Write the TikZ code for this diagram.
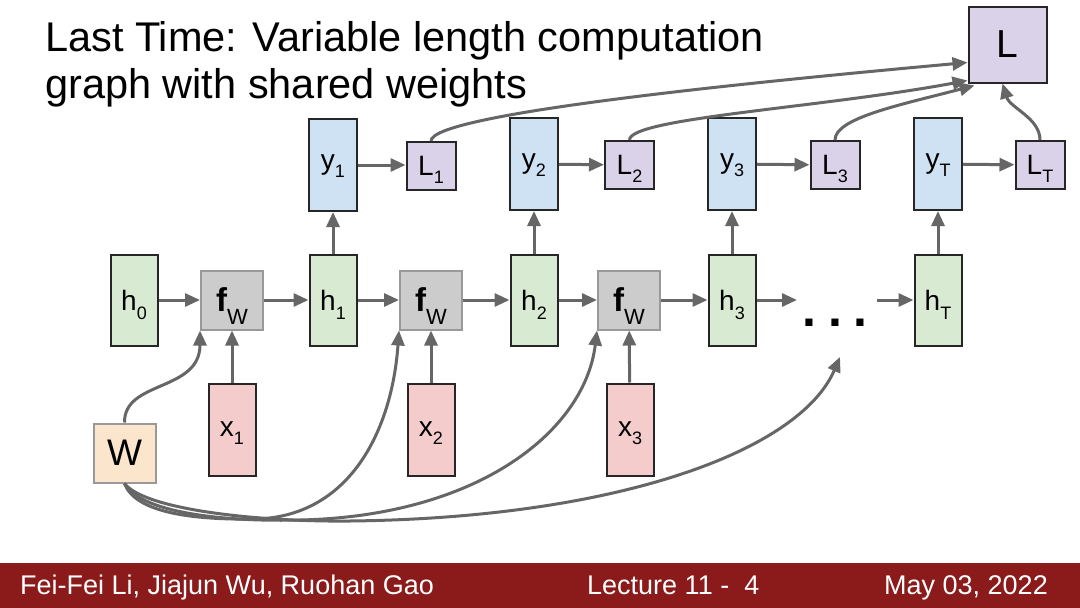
\documentclass[tikz,border=0pt]{standalone}
\usepackage{fontspec}
\setmainfont{Liberation Sans}
\usetikzlibrary{arrows.meta,calc}
\definecolor{hgreen}{HTML}{D9EAD3}
\definecolor{yblue}{HTML}{CFE2F3}
\definecolor{lpurple}{HTML}{D9D2E9}
\definecolor{xpink}{HTML}{F4CCCC}
\definecolor{worange}{HTML}{FCE5CD}
\definecolor{fgray}{HTML}{CCCCCC}
\definecolor{fborder}{HTML}{999999}
\definecolor{arrgray}{HTML}{666666}
\definecolor{footred}{HTML}{8B1A1A}
\newcommand{\fs}[1]{\fontsize{#1}{#1}\selectfont}
\newcommand{\sbl}[3]{#1\smash{\raisebox{-#3pt}{\fs{18}#2}}}
\newcommand{\fwlabel}{{\bfseries f}\smash{\raisebox{-13pt}{\fs{22}W}}}
\begin{document}
\begin{tikzpicture}[x=1pt,y=-1pt,
  box/.style={draw=black!85, line width=2pt, inner sep=0pt, font=\fs{28}},
  hbox/.style={box, fill=hgreen, minimum width=47pt, minimum height=91pt},
  ybox/.style={box, fill=yblue, minimum width=48pt, minimum height=92pt},
  lbox/.style={box, fill=lpurple, minimum width=49pt, minimum height=48pt},
  xbox/.style={box, fill=xpink, minimum width=47pt, minimum height=92pt},
  fbox/.style={box, draw=fborder, fill=fgray, minimum width=62pt, minimum height=59pt, font=\fs{33}},
  wbox/.style={box, draw=fborder, fill=worange, minimum width=62pt, minimum height=59pt, font=\fs{37}},
  arr/.style={draw=arrgray, line width=3pt, -{Triangle[length=15pt,width=13pt]}},
  titletext/.style={anchor=base west, inner sep=0pt, font=\fs{41.5}},
  foottext/.style={anchor=base west, inner sep=0pt, text=white, font=\fs{27}},
]
\fill[white] (0,0) rectangle (1080,608);
\useasboundingbox (0,0) rectangle (1080,608);
\fill[footred] (0,563) rectangle (1080,608);

% title
\node[titletext] (t1) at (45,51) {Last Time: Variable length computation};
\node[titletext] (t2) at (45,98) {graph with shared weights};

% footer
\node[foottext] (f1) at (20,594) {Fei-Fei Li, Jiajun Wu, Ruohan Gao};
\node[foottext] (f2) at (587,594) {Lecture 11 -\ \ 4};
\node[foottext] (f3) at (884,594) {May 03, 2022};

% big loss
\node[box, fill=lpurple, minimum width=78pt, minimum height=76pt, font=\fs{39}] (L) at (1007.5,44.5) {L};

% hidden states
\node[hbox] (h0) at (134,300) {\sbl{h}{0}{9}};
\node[hbox] (h1) at (333,300) {\sbl{h}{1}{9}};
\node[hbox] (h2) at (534,300) {\sbl{h}{2}{9}};
\node[hbox] (h3) at (732,300) {\sbl{h}{3}{9}};
\node[hbox] (hT) at (938,300) {\sbl{h}{T}{9}};

% f_W
\node[fbox] (f1w) at (232,300) {\fwlabel};
\node[fbox] (f2w) at (431,300) {\fwlabel};
\node[fbox] (f3w) at (629,300) {\fwlabel};

% outputs
\node[ybox] (y1) at (333,165) {\sbl{y}{1}{8}};
\node[ybox] (y2) at (534,164) {\sbl{y}{2}{8}};
\node[ybox] (y3) at (732,164) {\sbl{y}{3}{8}};
\node[ybox] (yT) at (938,164) {\sbl{y}{T}{8}};

% losses
\node[lbox] (L1) at (431,166) {\sbl{L}{1}{8}};
\node[lbox] (L2) at (629.5,165) {\sbl{L}{2}{8}};
\node[lbox] (L3) at (835,165) {\sbl{L}{3}{8}};
\node[lbox] (LT) at (1040,165) {\sbl{L}{T}{8}};

% inputs
\node[xbox] (x1) at (232,429.5) {\sbl{x}{1}{8}};
\node[xbox] (x2) at (431,429.5) {\sbl{x}{2}{8}};
\node[xbox] (x3) at (630,429.5) {\sbl{x}{3}{8}};

% weights
\node[wbox] (W) at (124.5,453) {W};

% dots
\node[anchor=base, inner sep=0pt, font=\fs{50}\bfseries] (dots) at (835,326) {.\hspace{12pt}.\hspace{12pt}.};
\coordinate (dl) at (797,300);
\coordinate (dr) at (877,300);
\coordinate (dw) at (840,357);

% horizontal chain
\draw[arr] (h0) -- (f1w);
\draw[arr] (f1w) -- (h1);
\draw[arr] (h1) -- (f2w);
\draw[arr] (f2w) -- (h2);
\draw[arr] (h2) -- (f3w);
\draw[arr] (f3w) -- (h3);
\draw[arr] (h3.east) -- (dl);
\draw[arr] (dr) -- (hT.west);

% h -> y
\draw[arr] (h1) -- (y1);
\draw[arr] (h2) -- (y2);
\draw[arr] (h3) -- (y3);
\draw[arr] (hT) -- (yT);

% y -> L
\draw[arr] (y1.east) -- (y1.east -| L1.west);
\draw[arr] (y2) -- (L2);
\draw[arr] (y3) -- (L3);
\draw[arr] (yT) -- (LT);

% x -> f
\draw[arr] (x1) -- (f1w);
\draw[arr] (x2) -- (f2w);
\draw[arr] (x3) -- (f3w);

% W -> f
\draw[arr] (W.north) .. controls (124,380) and (200,392) .. (f1w.south west);
\draw[arr] (W.south) .. controls (135,512) and (190,520) .. (255,519) .. controls (350,517) and (392,430) .. (f2w.south west);
\draw[arr] (W.south) .. controls (140,512) and (220,522) .. (300,520) .. controls (480,516) and (585,430) .. (f3w.south west);
\draw[arr] (W.south) .. controls (145,510) and (260,522) .. (350,521) .. controls (620,518) and (800,450) .. (dw);

% losses -> L
\draw[arr] (L1.north) .. controls (431,115) and (720,85) .. ([yshift=-18pt]L.west);
\draw[arr] (L2.north) .. controls (629.5,118) and (820,108) .. ([yshift=3pt]L.south west);
\draw[arr] (L3.north) .. controls (835,118) and (900,105) .. ([xshift=7pt,yshift=-2pt]L.south west);
\draw[arr] (LT.north) .. controls (1040,118) and (1010,108) .. ([xshift=-5pt]L.south);
\end{tikzpicture}
\end{document}
